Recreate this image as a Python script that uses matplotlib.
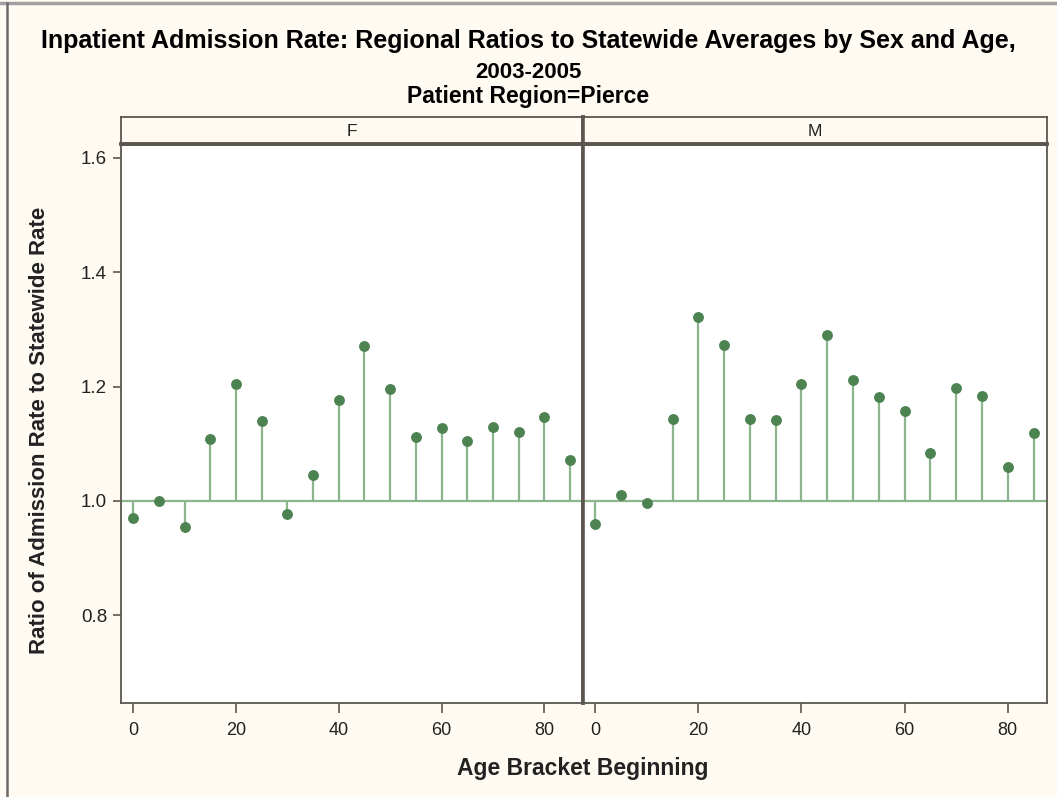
import numpy as np
import matplotlib
matplotlib.use('Agg')
import matplotlib.pyplot as plt
from matplotlib.lines import Line2D

# -- datos -- #
edades = [0, 5, 10, 15, 20, 25, 30, 35, 40, 45, 50, 55, 60, 65, 70, 75, 80, 85]
razon_f = [0.971, 1.000, 0.955, 1.108, 1.205, 1.139, 0.977, 1.045, 1.176, 1.270,
           1.195, 1.111, 1.127, 1.104, 1.129, 1.121, 1.146, 1.072]
razon_m = [0.960, 1.010, 0.996, 1.144, 1.321, 1.272, 1.144, 1.141, 1.205, 1.290,
           1.211, 1.181, 1.157, 1.083, 1.198, 1.184, 1.059, 1.119]
paneles = ['F', 'M']
yticks = [0.8, 1.0, 1.2, 1.4, 1.6]
xticks = [0, 20, 40, 60, 80]

titulo = 'Inpatient Admission Rate: Regional Ratios to Statewide Averages by Sex and Age,'
titulo2 = '2003-2005'
subtitulo = 'Patient Region=Pierce'

# -- estilo -- #
fondo = '#fffbf2'
c_borde = '#5b5750'
c_tallo = '#8db58d'
c_punto = '#4d8251'
c_texto = '#222222'
plt.rcParams['font.family'] = ['Liberation Sans', 'DejaVu Sans']

fig = plt.figure(figsize=(10.57, 7.97), dpi=100, facecolor=fondo)

W, H = 1057.0, 797.0
y_abajo, y_arriba = 703.0, 145.0
cortes = [(121.0, 583.0), (583.0, 1046.5)]
datos = [razon_f, razon_m]

for i, (x0, x1) in enumerate(cortes):
    ax = fig.add_axes([x0 / W, 1 - y_abajo / H, (x1 - x0) / W, (y_abajo - y_arriba) / H])
    ax.set_facecolor('white')
    ax.axhline(1.0, color=c_tallo, lw=1.6, zorder=1)
    ax.vlines(edades, 1.0, datos[i], color=c_tallo, lw=1.6, zorder=2)
    ax.plot(edades, datos[i], 'o', color=c_punto, ms=6.8, mec=c_punto, zorder=3)
    ax.set_xlim(-2.35, 87.5)
    ax.set_ylim(0.647, 1.622)
    ax.set_xticks(xticks)
    ax.set_xticklabels([str(t) for t in xticks])
    ax.tick_params(axis='x', direction='out', length=7, width=1.2, color=c_borde,
                   labelsize=13, labelcolor=c_texto, pad=7)
    if i == 0:
        ax.set_yticks(yticks)
        ax.set_yticklabels(['%.1f' % t for t in yticks])
        ax.tick_params(axis='y', direction='out', length=6, width=1.2, color=c_borde,
                       labelsize=13.5, labelcolor=c_texto, pad=4)
    else:
        ax.set_yticks([])
    for s in ax.spines.values():
        s.set_color(c_borde)
        s.set_linewidth(1.3)
    if i == 0:
        ax.spines['right'].set_linewidth(2.6)
    else:
        ax.spines['left'].set_linewidth(2.6)

    # franja del encabezado
    hx = fig.add_axes([x0 / W, 1 - 144.0 / H, (x1 - x0) / W, 27.0 / H])
    hx.set_facecolor(fondo)
    hx.set_xticks([])
    hx.set_yticks([])
    for s in hx.spines.values():
        s.set_color(c_borde)
        s.set_linewidth(1.3)
    hx.spines['bottom'].set_linewidth(2.8)
    if i == 0:
        hx.spines['right'].set_linewidth(2.6)
    else:
        hx.spines['left'].set_linewidth(2.6)
    hx.text(0.5, 0.45, paneles[i], ha='center', va='center', fontsize=12.5, color=c_texto,
            transform=hx.transAxes)

fig.text(0.5, 1 - 41.0 / H, titulo, ha='center', va='center', fontsize=18,
         fontweight='bold', color='black')
fig.text(0.5, 1 - 73.0 / H, titulo2, ha='center', va='center', fontsize=16,
         fontweight='bold', color='black')
fig.text(0.5, 1 - 97.0 / H, subtitulo, ha='center', va='center', fontsize=16.5,
         fontweight='bold', color='black')
fig.text(583.0 / W, 1 - 768.0 / H, 'Age Bracket Beginning', ha='center', va='center',
         fontsize=16.5, fontweight='bold', color=c_texto)
fig.text(40.0 / W, 1 - 430.0 / H, 'Ratio of Admission Rate to Statewide Rate', ha='center',
         va='center', rotation=90, fontsize=16, fontweight='bold', color=c_texto)

# marco de la captura
fig.add_artist(Line2D([0, 1], [1 - 3.0 / H, 1 - 3.0 / H], color='#a0a0a0', lw=2.5,
                      transform=fig.transFigure))
fig.add_artist(Line2D([7.0 / W, 7.0 / W], [0, 1 - 3.0 / H], color='#6a6a6a', lw=1.8,
                      transform=fig.transFigure))

fig.savefig('out.png', dpi=100, facecolor=fondo)
